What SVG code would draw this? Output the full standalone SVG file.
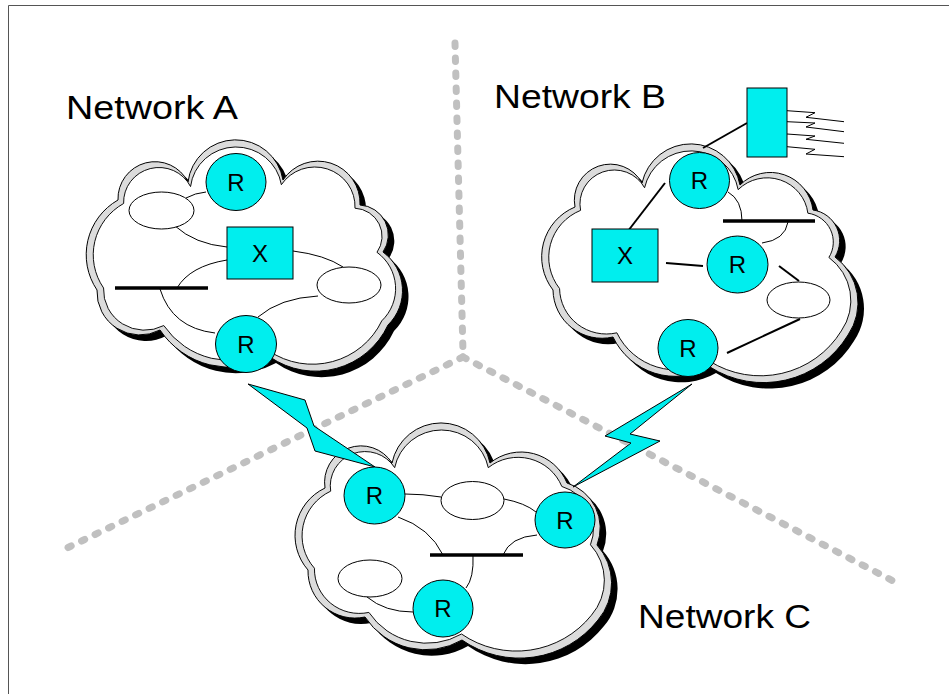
<svg xmlns="http://www.w3.org/2000/svg" xmlns:xlink="http://www.w3.org/1999/xlink" width="949" height="694" viewBox="0 0 949 694">
<style>
.shadow{fill:#000;stroke:none}
.band{fill:#dcdcdc;stroke:#000;stroke-width:1}
.inner{fill:#fff;stroke:#000;stroke-width:1}
.thin{fill:none;stroke:#000;stroke-width:1}
.thick{fill:none;stroke:#000;stroke-width:2}
.bar{fill:none;stroke:#000;stroke-width:3.5}
.cy{fill:#00eeee;stroke:#000;stroke-width:1}
.wht{fill:#fff;stroke:#000;stroke-width:1}
.bolt{fill:#00eeee;stroke:#000;stroke-width:1;stroke-linejoin:miter}
.div{fill:none;stroke:#c0c0c0;stroke-width:7;stroke-linecap:round;stroke-dasharray:3.5 11.5}
.lbl{font-family:"Liberation Sans",Arial,sans-serif;font-size:24px;fill:#000;text-anchor:middle}
.title{font-family:"Liberation Sans",Arial,sans-serif;font-size:33px;fill:#000}
</style>
<defs>
<path id="cloudA" d="M97,290 A63,63 0 0 1 118,200 A37,37 0 0 1 188,182 A48,48 0 0 1 283,180 A42,42 0 0 1 360,205 A30,30 0 0 1 383,252 A48,48 0 0 1 388,325 A80,80 0 0 1 270,357 A84,84 0 0 1 160,330 A43,43 0 0 1 97,290 Z"/>
<path id="cloudB" d="M553,290 A54,54 0 0 1 575,207 A36,36 0 0 1 642,183 A50,50 0 0 1 740,185 A43,43 0 0 1 813,210 A31,31 0 0 1 835,257 A57,57 0 0 1 848,335 A99,99 0 0 1 710,367 A69,69 0 0 1 613,337 A49,49 0 0 1 553,290 Z"/>
<path id="cloudC" d="M308,570 A52.5,52.5 0 0 1 325,488 A36.5,36.5 0 0 1 392,463 A50,50 0 0 1 490,463 A49.5,49.5 0 0 1 567,483 A47,47 0 0 1 597,545 A57,57 0 0 1 598,620 A100,100 0 0 1 462,640 A72.5,72.5 0 0 1 365,617 A47,47 0 0 1 308,570 Z"/>
</defs>

<rect width="949" height="694" fill="#fff"/>
<path d="M8.5,694 V5.5 H949" fill="none" stroke="#555" stroke-width="1"/>

<g id="boundaries">
<path class="div" d="M455,43 L463,352"/>
<path class="div" d="M463,357 L65,549"/>
<path class="div" d="M463,357 L897,583"/>
</g>

<g id="networkA-cloud">
<use xlink:href="#cloudA" class="shadow" transform="translate(6,6)"/>
<use xlink:href="#cloudA" class="band"/>
<use xlink:href="#cloudA" class="inner" transform="translate(246,257) scale(0.956,0.939) translate(-246,-257)"/>
</g>
<g id="networkB-cloud">
<use xlink:href="#cloudB" class="shadow" transform="translate(6,6)"/>
<use xlink:href="#cloudB" class="band"/>
<use xlink:href="#cloudB" class="inner" transform="translate(699,265) scale(0.955,0.942) translate(-699,-265)"/>
</g>
<g id="networkC-cloud">
<use xlink:href="#cloudC" class="shadow" transform="translate(6,6)"/>
<use xlink:href="#cloudC" class="band"/>
<use xlink:href="#cloudC" class="inner" transform="translate(451.5,540.5) scale(0.955,0.94) translate(-451.5,-540.5)"/>
</g>

<g id="connectors">
<path class="thin" d="M186,198 Q195,193 206,192"/>
<path class="thin" d="M175,226 Q195,244 227,247"/>
<path class="thin" d="M227,260 Q190,266 177,288"/>
<path class="thin" d="M293,251 Q325,255 343,267"/>
<path class="thin" d="M160,289 Q172,328 215,333"/>
<path class="thin" d="M318,296 Q280,298 258,317"/>
<path class="thick" d="M665,183 L628,231"/>
<path class="thick" d="M666,263 L703,266"/>
<path class="thick" d="M779,266 L799,281"/>
<path class="thick" d="M800,319 L727,353"/>
<path class="thick" d="M703,148 L747,123"/>
<path class="thin" d="M728,192 Q742,200 742,221"/>
<path class="thin" d="M788,222 Q785,240 762,243"/>
<path class="thin" d="M787,110.7 L815,112.7 L806,117.3 L844,121.7"/>
<path class="thin" d="M787,121.7 L815,123 L806,127 L844,131.7"/>
<path class="thin" d="M787,134 L815,136 L806,139.3 L844,143.3"/>
<path class="thin" d="M787,146.7 L815,149.3 L806,154 L844,156.7"/>
<path class="thin" d="M405,494 Q423,494 441,497"/>
<path class="thin" d="M504,499 Q525,503 536,512"/>
<path class="thin" d="M398,517 Q430,528 443,555"/>
<path class="thin" d="M537,535 Q510,537 503,555"/>
<path class="thin" d="M473,555 Q474,578 466,588"/>
<path class="thin" d="M367,597 Q385,612 413,612"/>
<polygon class="bolt" points="248,384 305,400 314,426 375,467 315,451 307,428"/>
<polygon class="bolt" points="692,384 605,436 631,443 573,487 660,441 630,434"/>
</g>

<g id="bars">
<line class="bar" x1="115" y1="288" x2="208" y2="288"/>
<line class="bar" x1="723" y1="221" x2="815" y2="221"/>
<line class="bar" x1="430" y1="555" x2="523" y2="555"/>
</g>

<g id="hostsA">
<ellipse class="wht" cx="161.5" cy="210.5" rx="32.5" ry="18.5"/>
<ellipse class="wht" cx="349" cy="285" rx="32" ry="18"/>
</g>
<g id="hostB">
<ellipse class="wht" cx="798.5" cy="300" rx="31.5" ry="18"/>
</g>
<g id="hostsC">
<ellipse class="wht" cx="472.5" cy="500.5" rx="31.5" ry="19"/>
<ellipse class="wht" cx="370" cy="578.5" rx="32" ry="18.5"/>
</g>

<g id="switchA">
<rect class="cy" x="227" y="227" width="66" height="52"/>
<text class="lbl" x="260" y="262">X</text>
</g>
<g id="switchB">
<rect class="cy" x="592" y="229" width="66" height="53"/>
<text class="lbl" x="625" y="264">X</text>
</g>
<g id="muxB">
<rect class="cy" x="747" y="88" width="40" height="69"/>
</g>

<g id="routerA1"><ellipse class="cy" cx="236" cy="182" rx="30" ry="28.5"/><text class="lbl" x="236" y="190.5">R</text></g>
<g id="routerA2"><ellipse class="cy" cx="246" cy="344" rx="30.5" ry="28.5"/><text class="lbl" x="246" y="352.5">R</text></g>
<g id="routerB1"><ellipse class="cy" cx="699.5" cy="180.5" rx="30" ry="28"/><text class="lbl" x="699.5" y="189">R</text></g>
<g id="routerB2"><ellipse class="cy" cx="737.5" cy="264.5" rx="30.5" ry="28.5"/><text class="lbl" x="737.5" y="273">R</text></g>
<g id="routerB3"><ellipse class="cy" cx="688" cy="348" rx="30" ry="28.5"/><text class="lbl" x="688" y="356.5">R</text></g>
<g id="routerC1"><ellipse class="cy" cx="374.5" cy="495.5" rx="30.5" ry="28.5"/><text class="lbl" x="374.5" y="504">R</text></g>
<g id="routerC2"><ellipse class="cy" cx="565" cy="520" rx="30" ry="28"/><text class="lbl" x="565" y="528.5">R</text></g>
<g id="routerC3"><ellipse class="cy" cx="443" cy="608.5" rx="30" ry="28.5"/><text class="lbl" x="443" y="617">R</text></g>

<g id="labels">
<text class="title" x="66" y="119" textLength="172" lengthAdjust="spacingAndGlyphs">Network A</text>
<text class="title" x="494" y="108" textLength="172" lengthAdjust="spacingAndGlyphs">Network B</text>
<text class="title" x="638" y="628" textLength="173" lengthAdjust="spacingAndGlyphs">Network C</text>
</g>
</svg>
